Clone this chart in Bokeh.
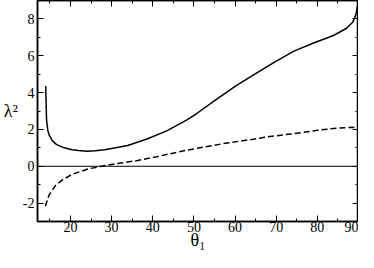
from bokeh.plotting import figure
from bokeh.models import (LinearAxis, SingleIntervalTicker, Span, Range1d,
                          CustomJSTickFormatter)
from bokeh.embed import file_html
from bokeh.resources import INLINE

# solid curve
theta_solid = [14.0, 14.1, 14.2, 14.5, 14.8, 15.6, 16.5, 17.2, 18.5, 20.4, 22.0, 24.0,
               26.0, 28.3, 30.0, 33.9, 38.6, 43.4, 48.2, 50.6, 55.3, 60.1, 64.8,
               69.6, 74.3, 79.1, 83.9, 87.0, 88.6, 89.4, 89.9]
lam2_solid = [4.35, 3.4, 2.5, 1.95, 1.72, 1.39, 1.2, 1.12, 1.0, 0.9, 0.85, 0.82,
              0.84, 0.89, 0.96, 1.13, 1.48, 1.92, 2.5, 2.85, 3.6, 4.35, 5.0,
              5.65, 6.25, 6.69, 7.1, 7.48, 7.82, 8.26, 8.87]

# dashed curve
theta_dashed = [13.9, 14.8, 16.4, 18.0, 20.4, 22.5, 24.4, 27.5, 30.0, 36.3, 41.0,
                48.2, 57.7, 64.8, 67.2, 74.3, 80.0, 83.9, 88.6, 90.0]
lam2_dashed = [-2.17, -1.57, -1.04, -0.75, -0.44, -0.28, -0.14, 0.0, 0.1, 0.31, 0.52,
               0.87, 1.25, 1.48, 1.58, 1.77, 1.95, 2.05, 2.12, 2.05]

x_title = "θ₁"
y_title = "λ²"

FONT = "Liberation Serif, Times New Roman, DejaVu Serif, serif"

p = figure(width=358, height=252, x_range=Range1d(12, 90), y_range=Range1d(-3, 9),
           output_backend="svg", toolbar_location=None,
           min_border_left=0, min_border_right=0, min_border_top=0, min_border_bottom=0,
           x_axis_location=None, y_axis_location=None)
p.xgrid.visible = False
p.ygrid.visible = False
p.outline_line_color = "black"
p.outline_line_width = 1.5
p.background_fill_color = "white"
p.border_fill_color = "white"

plain = CustomJSTickFormatter(code="return tick.toString();")


def style(ax, labels=True):
    ax.axis_line_color = "black"
    ax.axis_line_width = 1.5
    ax.major_tick_in = 6
    ax.major_tick_out = 0
    ax.minor_tick_in = 3
    ax.minor_tick_out = 0
    ax.major_tick_line_color = "black"
    ax.minor_tick_line_color = "black"
    if labels:
        ax.formatter = plain
        ax.major_label_text_font = FONT
        ax.major_label_text_font_size = "14px"
        ax.major_label_text_color = "black"
        ax.major_label_standoff = 0
    else:
        ax.major_label_text_font_size = "0px"
        ax.major_label_text_color = None
        ax.major_label_standoff = 0


xb = LinearAxis(ticker=SingleIntervalTicker(interval=10, num_minor_ticks=2))
style(xb)
xb.axis_label = x_title
xb.axis_label_text_font = FONT
xb.axis_label_text_font_size = "18px"
xb.axis_label_text_font_style = "normal"
xb.axis_label_text_color = "black"
xb.axis_label_standoff = -5
p.add_layout(xb, "below")

yl = LinearAxis(ticker=SingleIntervalTicker(interval=2, num_minor_ticks=2))
style(yl)
yl.major_label_standoff = 3
yl.axis_label = y_title
yl.axis_label_text_font = FONT
yl.axis_label_text_font_size = "18px"
yl.axis_label_text_font_style = "normal"
yl.axis_label_text_color = "black"
yl.axis_label_standoff = 2
yl.axis_label_orientation = "horizontal"
p.add_layout(yl, "left")

xt = LinearAxis(ticker=SingleIntervalTicker(interval=10, num_minor_ticks=2))
style(xt, labels=False)
p.add_layout(xt, "above")

yr = LinearAxis(ticker=SingleIntervalTicker(interval=2, num_minor_ticks=2))
style(yr, labels=False)
p.add_layout(yr, "right")

p.add_layout(Span(location=0, dimension="width", line_color="black", line_width=1))

p.line(theta_solid, lam2_solid, line_color="black", line_width=1.5)
p.line(theta_dashed, lam2_dashed, line_color="black", line_width=1.5, line_dash="6 3")

open("out.html", "w").write(file_html(p, INLINE))
